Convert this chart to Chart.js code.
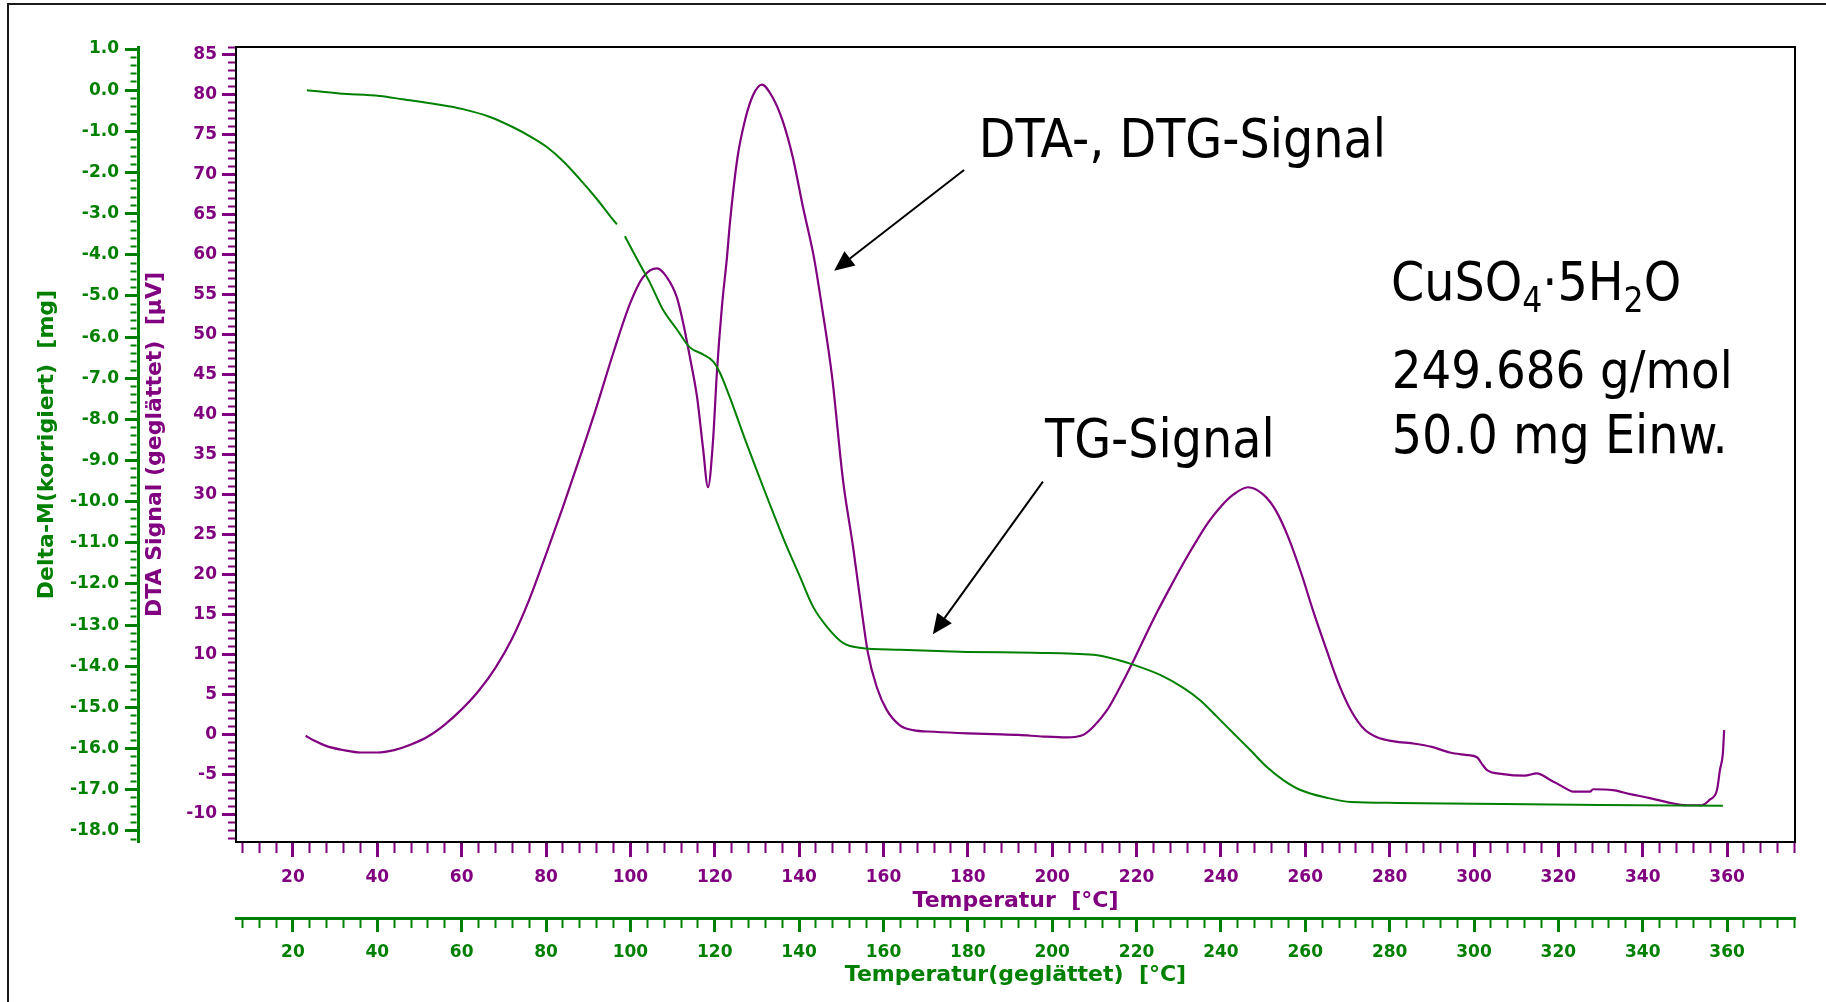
<!DOCTYPE html>
<html>
<head>
<meta charset="utf-8">
<title>CuSO4·5H2O – TG / DTA</title>
<script src="https://cdn.jsdelivr.net/npm/chart.js@4.4.1/dist/chart.umd.min.js"></script>
<style>
  html, body { margin: 0; padding: 0; background: #fff; }
  #wrap { position: relative; width: 1826px; height: 1002px; }
</style>
</head>
<body>
<div id="wrap"><canvas id="thermo"></canvas></div>
<script>
// TG-Kurve: Massenaenderung [mg] gegen Temperatur [°C] (null = Luecke in der Messung)
const tgTemp = [23.3, 31, 40.6, 46, 54, 60.3, 66.7, 72.2, 76.2, 80.2,
  84, 88, 92.1, 95.2, 96.8, 97.7, 98.7, 101.6, 104.6, 107.7,
  111, 114.1, 117.2, 119.6, 121.2, 123.6, 127.2, 130, 133, 136.5,
  140.2, 143.3, 146.6, 150.4, 154.4, 163.9, 179.8, 195.4, 209.7, 215.4,
  219.2, 225.6, 231, 235, 239.1, 242.9, 246.9, 250.9, 254.7, 258.7,
  265.3, 270.8, 281.8, 300, 330, 359];
const tgMass = [0.0, -0.08, -0.14, -0.22, -0.34, -0.46, -0.65, -0.90, -1.12, -1.38,
  -1.72, -2.16, -2.65, -3.06, -3.26, null, -3.55, -4.11, -4.67, -5.33,
  -5.81, -6.25, -6.42, -6.59, -6.86, -7.47, -8.49, -9.25, -10.05, -10.95,
  -11.82, -12.55, -13.04, -13.43, -13.55, -13.6, -13.65, -13.67, -13.72, -13.84,
  -13.96, -14.21, -14.52, -14.82, -15.23, -15.62, -16.03, -16.45, -16.76, -17.0,
  -17.2, -17.3, -17.32, -17.34, -17.37, -17.39];

// DTA-Kurve: Signal [µV] gegen Temperatur [°C]
const dtaTemp = [23, 25, 28, 32, 36, 40, 44, 48, 52, 56,
  60, 64, 68, 72, 76, 80, 84, 88, 92, 96,
  100, 103, 106.3, 108.5, 111, 112.5, 114.1, 115.8, 117.2,
  118.4, 119.6, 120.5, 121.7, 122.9, 123.6, 125.4, 127.2, 129.1, 131.2,
  133.6, 136, 138.5, 140.9, 143.5, 145.4, 147.8, 150.4, 152.8, 154.9,
  156.3, 158.4, 160.8, 163.9, 167, 172, 180, 186, 192, 198,
  203.5, 207.3, 209.7, 213, 216, 219, 222, 225, 228, 231,
  234, 237, 240, 243, 246.4, 250, 253, 256, 259, 262, 265,
  268, 271, 274, 277, 281, 286, 290, 294.3, 298, 300.7, 302.1,
  303.1, 306.9, 312, 314.9, 318, 321.1, 323.5, 327.5, 328.2, 332.9,
  337, 341.7, 345.7, 350.5, 354, 355.9, 357.6, 358.3, 359, 359.3];
const dtaSignal = [-0.2, -0.8, -1.5, -2.0, -2.3, -2.3, -2.0, -1.3, -0.3, 1.2,
  3.1, 5.4, 8.3, 12.0, 16.8, 22.5, 28.4, 34.6, 41.0, 47.8,
  54.0, 57.2, 58.3, 57.3, 54.7, 51.5, 47.2, 42.2, 35.9,
  30.9, 36.8, 45.2, 53.5, 59.7, 64.0, 72.2, 76.9, 80.0, 81.3,
  79.8, 76.9, 72.2, 66.0, 59.7, 53.5, 44.8, 31.8, 23.4, 15.2,
  10.2, 5.9, 3.0, 1.1, 0.5, 0.3, 0.1, 0.0, -0.1, -0.3,
  -0.4, -0.1, 0.9, 3.0, 5.8, 8.9, 12.2, 15.4, 18.4, 21.3,
  24.0, 26.5, 28.5, 30.0, 30.9, 30.0, 28.0, 24.6, 20.2, 15.2, 10.6,
  6.2, 2.8, 0.6, -0.4, -0.9, -1.2, -1.6, -2.3, -2.6, -2.9, -3.9,
  -4.5, -5.0, -5.2, -4.9, -5.7, -6.6, -7.2, -7.2, -6.9, -7.0,
  -7.5, -8.0, -8.5, -8.9, -8.9, -8.2, -7.0, -4.5, -2.4, 0.5];

// Beschriftungen im Diagramm, in Achsenwerten (Temperatur, DTA-Signal)
const notes = [
  { text: 'DTA-, DTG-Signal', t: 182.6, v: 72.2 },
  { text: 'TG-Signal', t: 198.3, v: 34.7 },
  { text: '249.686 g/mol', t: 280.5, v: 43.3 },
  { text: '50.0 mg Einw.', t: 280.5, v: 35.2 }
];
const formula = [['CuSO', 0], ['4', 1], ['·', 0], ['5H', 0], ['2', 1], ['O', 0]];
const formulaPos = { t: 280.3, v: 54.3 };
const arrows = [
  { from: [179.1, 70.6], to: [148.3, 58.0] },
  { from: [197.8, 31.6], to: [171.7, 12.5] }
];

const GREEN = '#008000';
const PURPLE = '#800080';
const NOTE_FONT = '"DejaVu Sans Condensed", "Liberation Sans", sans-serif';

const toPoints = (xs, ys) => xs.map((x, i) => ({ x: x, y: ys[i] }));
const onStep = (v, step) => Math.abs(v / step - Math.round(v / step)) < 1e-6;

// Achse mit langen Haupt- und kurzen Nebenstrichen (Nebenstriche per Strichmuster gekuerzt)
function axis(opts) {
  const horizontal = opts.position === 'bottom';
  const lineLen = opts.tickLength - opts.borderWidth / 2;
  return {
    type: 'linear',
    position: opts.position,
    weight: opts.weight,
    min: opts.min,
    max: opts.max,
    afterFit: s => { if (horizontal) s.height = opts.size; else s.width = opts.size; },
    border: { display: true, color: opts.borderColor, width: opts.borderWidth },
    grid: {
      display: true,
      drawOnChartArea: false,
      drawTicks: true,
      tickLength: opts.tickLength,
      tickColor: opts.color,
      tickWidth: c => (c.tick && onStep(c.tick.value, opts.major)) ? 3 : 2,
      tickBorderDash: c => {
        if (c.tick && onStep(c.tick.value, opts.major)) return [];
        return horizontal ? [opts.minorLength, 80] : [0, lineLen - opts.minorLength, opts.minorLength, 80];
      }
    },
    ticks: {
      stepSize: opts.minor,
      includeBounds: false,
      autoSkip: false,
      maxRotation: 0,
      minRotation: 0,
      padding: opts.labelPadding,
      color: opts.color,
      font: { family: 'DejaVu Sans', weight: 'bold', size: 17 },
      callback: v => onStep(v, opts.major) ? opts.format(v) : ''
    },
    title: {
      display: true,
      text: opts.title,
      color: opts.color,
      font: { family: 'DejaVu Sans', weight: 'bold', size: 22 },
      padding: opts.titlePadding
    }
  };
}

function drawArrow(ctx, x1, y1, x2, y2) {
  const ang = Math.atan2(y2 - y1, x2 - x1);
  const head = 20, half = 9;
  const bx = x2 - head * Math.cos(ang), by = y2 - head * Math.sin(ang);
  ctx.beginPath();
  ctx.moveTo(x1, y1);
  ctx.lineTo(bx, by);
  ctx.stroke();
  ctx.beginPath();
  ctx.moveTo(x2, y2);
  ctx.lineTo(bx + half * Math.sin(ang), by - half * Math.cos(ang));
  ctx.lineTo(bx - half * Math.sin(ang), by + half * Math.cos(ang));
  ctx.closePath();
  ctx.fill();
}

const extras = {
  id: 'extras',
  beforeDraw(chart) {
    const { ctx, width, height } = chart;
    ctx.save();
    ctx.fillStyle = '#fff';
    ctx.fillRect(0, 0, width, height);
    // aeusserer Rahmen, nur links und oben sichtbar
    ctx.strokeStyle = '#1a1a1a';
    ctx.lineWidth = 2;
    ctx.beginPath();
    ctx.moveTo(8, height);
    ctx.lineTo(8, 4);
    ctx.lineTo(width, 4);
    ctx.stroke();
    ctx.restore();
  },
  afterDraw(chart) {
    const { ctx, chartArea: a } = chart;
    const sx = chart.scales.x, sy = chart.scales.yDTA;
    const px = t => sx.getPixelForValue(t);
    const py = v => sy.getPixelForValue(v);
    ctx.save();
    ctx.strokeStyle = '#000';
    ctx.lineWidth = 2;
    ctx.strokeRect(a.left, a.top, a.right - a.left, a.bottom - a.top);

    ctx.fillStyle = '#000';
    ctx.textBaseline = 'alphabetic';
    ctx.textAlign = 'left';
    notes.forEach((n, i) => {
      // die Zeile "249.686 g/mol" etwas schmaler setzen
      ctx.font = (i === 2 ? '52px ' : '53px ') + NOTE_FONT;
      ctx.fillText(n.text, px(n.t), py(n.v));
    });

    let x = px(formulaPos.t);
    const base = py(formulaPos.v);
    formula.forEach(([txt, sub]) => {
      ctx.font = (sub ? '35px ' : '53px ') + NOTE_FONT;
      ctx.fillText(txt, x, sub ? base + 12 : base);
      x += ctx.measureText(txt).width;
    });

    ctx.lineWidth = 2;
    arrows.forEach(ar => drawArrow(ctx, px(ar.from[0]), py(ar.from[1]), px(ar.to[0]), py(ar.to[1])));
    ctx.restore();
  }
};

new Chart(document.getElementById('thermo'), {
  type: 'line',
  data: {
    datasets: [
      {
        label: 'TG-Signal',
        data: toPoints(tgTemp, tgMass),
        xAxisID: 'x2',
        yAxisID: 'yTG',
        borderColor: GREEN,
        borderWidth: 2,
        pointRadius: 0,
        cubicInterpolationMode: 'monotone',
        spanGaps: false
      },
      {
        label: 'DTA-Signal',
        data: toPoints(dtaTemp, dtaSignal),
        xAxisID: 'x',
        yAxisID: 'yDTA',
        borderColor: PURPLE,
        borderWidth: 2.2,
        pointRadius: 0,
        cubicInterpolationMode: 'monotone'
      }
    ]
  },
  options: {
    responsive: true,
    maintainAspectRatio: false,
    animation: false,
    layout: { padding: { left: 0, top: 47, right: 31, bottom: 0 } },
    plugins: {
      legend: { display: false },
      tooltip: { enabled: false }
    },
    scales: {
      x: axis({
        position: 'bottom', weight: 0, size: 76, min: 6.5, max: 376.1,
        minor: 4, major: 20, tickLength: 15, minorLength: 10, labelPadding: 10,
        color: PURPLE, borderColor: '#000', borderWidth: 2,
        format: v => String(Math.round(v)),
        title: 'Temperatur  [°C]', titlePadding: { top: 0, bottom: 4 }
      }),
      x2: axis({
        position: 'bottom', weight: 1, size: 84, min: 6.5, max: 376.1,
        minor: 4, major: 20, tickLength: 14, minorLength: 8, labelPadding: 10,
        color: GREEN, borderColor: GREEN, borderWidth: 3,
        format: v => String(Math.round(v)),
        title: 'Temperatur(geglättet)  [°C]', titlePadding: { top: 0, bottom: 14 }
      }),
      yDTA: axis({
        position: 'left', weight: 0, size: 98, min: -13.5, max: 86,
        minor: 1, major: 5, tickLength: 14, minorLength: 7, labelPadding: 5,
        color: PURPLE, borderColor: '#000', borderWidth: 2,
        format: v => String(Math.round(v)),
        title: 'DTA Signal (geglättet)  [µV]', titlePadding: { top: 4, bottom: 0 }
      }),
      yTG: axis({
        position: 'left', weight: 1, size: 138, min: -18.27, max: 1.05,
        minor: 0.2, major: 1, tickLength: 13, minorLength: 6, labelPadding: 6,
        color: GREEN, borderColor: GREEN, borderWidth: 3,
        format: v => v.toFixed(1),
        title: 'Delta-M(korrigiert)  [mg]', titlePadding: { top: 34, bottom: 0 }
      })
    }
  },
  plugins: [extras]
});
</script>
</body>
</html>
